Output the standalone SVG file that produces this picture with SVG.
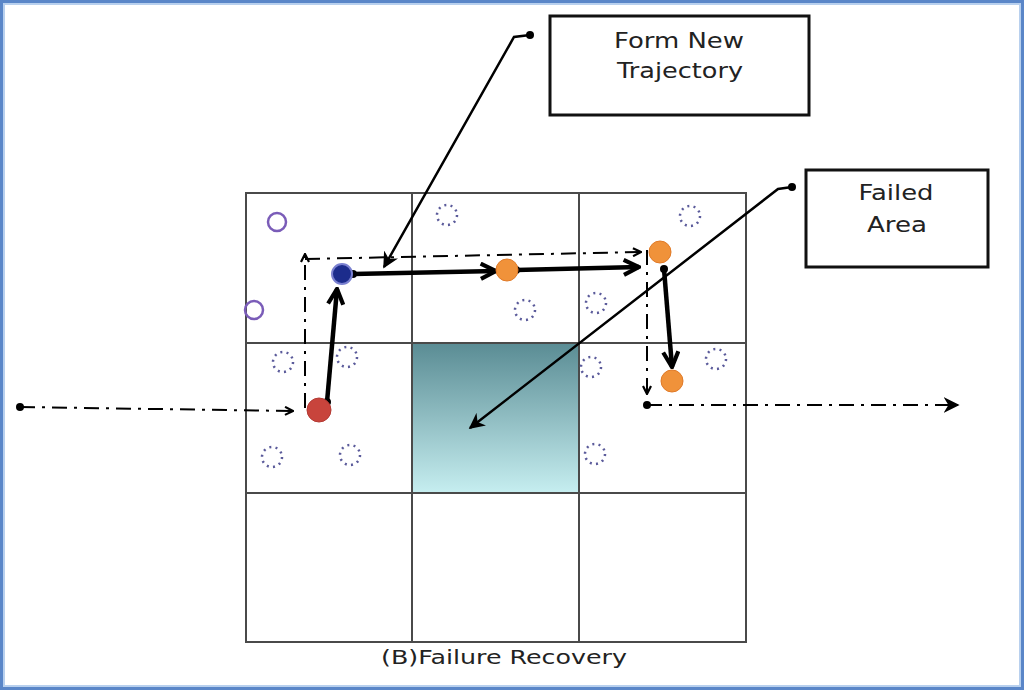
<svg xmlns="http://www.w3.org/2000/svg" width="1024" height="690" viewBox="0 0 1024 690">
<style>
.grid{fill:none;stroke:#4a4a4a;stroke-width:2}
.lbl{font-family:"DejaVu Sans","Liberation Sans",Arial,sans-serif;font-size:22px;fill:#222;text-anchor:middle}
.box{fill:#fff;stroke:#111;stroke-width:3}
.thick{stroke:#000;stroke-width:4.5;fill:none}
.lead{stroke:#000;stroke-width:2.5;fill:none}
.dd{stroke:#000;stroke-width:2;fill:none;stroke-dasharray:15 7 3 7}
.dotc{fill:none;stroke:#5a5a9a;stroke-width:2.5;stroke-dasharray:2 4.3}
.open{fill:none;stroke:#7a5cb8;stroke-width:2.5}
.orange{fill:#f0923a;stroke:#e07a28;stroke-width:1}
</style>
<defs>
<linearGradient id="fail" x1="0" y1="0" x2="0" y2="1">
<stop offset="0" stop-color="#5a8c94"/>
<stop offset="1" stop-color="#c6eef0"/>
</linearGradient>
<marker id="ahB" viewBox="0 0 10 10" refX="9" refY="5" markerWidth="19" markerHeight="19" orient="auto" markerUnits="userSpaceOnUse">
<path d="M1,1 L9,5 L1,9" fill="none" stroke="#000" stroke-width="2.2"/>
</marker>
<marker id="ahT" viewBox="0 0 10 10" refX="9" refY="5" markerWidth="10" markerHeight="10" orient="auto" markerUnits="userSpaceOnUse">
<path d="M1,1 L9,5 L1,9" fill="none" stroke="#000" stroke-width="2.2"/>
</marker>
<marker id="ahD" viewBox="0 0 10 10" refX="9" refY="5" markerWidth="16" markerHeight="16" orient="auto" markerUnits="userSpaceOnUse">
<path d="M0,0 L10,5 L0,10 L3,5 Z" fill="#000"/>
</marker>
<marker id="dot" viewBox="0 0 10 10" refX="5" refY="5" markerWidth="8" markerHeight="8" markerUnits="userSpaceOnUse">
<circle cx="5" cy="5" r="5" fill="#000"/>
</marker>
</defs>
<rect x="0" y="0" width="1024" height="690" fill="#fff"/>
<rect x="1.5" y="1.5" width="1021" height="687" fill="none" stroke="#5a86c8" stroke-width="3"/>
<rect x="4" y="4" width="1016" height="682" fill="none" stroke="#b8d0ee" stroke-width="2"/>

<g id="failed-area-cell">
<rect x="412" y="343" width="167" height="150" fill="url(#fail)"/>
</g>
<g id="grid">
<rect class="grid" x="246" y="193" width="500" height="449"/>
<line class="grid" x1="412" y1="193" x2="412" y2="642"/>
<line class="grid" x1="579" y1="193" x2="579" y2="642"/>
<line class="grid" x1="246" y1="343" x2="746" y2="343"/>
<line class="grid" x1="246" y1="493" x2="746" y2="493"/>
</g>

<g id="sensors">
<circle class="dotc" cx="447" cy="215" r="10"/>
<circle class="dotc" cx="690" cy="216" r="10"/>
<circle class="dotc" cx="525" cy="310" r="10"/>
<circle class="dotc" cx="596" cy="303" r="10"/>
<circle class="dotc" cx="283" cy="362" r="10"/>
<circle class="dotc" cx="347" cy="357" r="10"/>
<circle class="dotc" cx="591" cy="367" r="10"/>
<circle class="dotc" cx="716" cy="359" r="10"/>
<circle class="dotc" cx="272" cy="457" r="10"/>
<circle class="dotc" cx="350" cy="455" r="10"/>
<circle class="dotc" cx="595" cy="454" r="10"/>
<circle class="open" cx="277" cy="222" r="9"/>
<circle class="open" cx="254" cy="310" r="9"/>
</g>

<g id="connectors">
<polyline class="dd" points="20,407 293,411" marker-start="url(#dot)" marker-end="url(#ahT)"/>
<polyline class="dd" points="305,408 305,254" marker-end="url(#ahT)"/>
<polyline class="dd" points="305,259 641,252" marker-end="url(#ahT)"/>
<polyline class="dd" points="647,250 647,394" marker-end="url(#ahT)"/>
<polyline class="dd" points="647,405 958,405" marker-start="url(#dot)" marker-end="url(#ahD)"/>
<line class="thick" x1="327" y1="402" x2="337" y2="289" marker-start="url(#dot)" marker-end="url(#ahB)"/>
<line class="thick" x1="353" y1="274" x2="496" y2="271" marker-start="url(#dot)" marker-end="url(#ahB)"/>
<line class="thick" x1="516" y1="270" x2="639" y2="267" marker-start="url(#dot)" marker-end="url(#ahB)"/>
<line class="thick" x1="664" y1="269" x2="672" y2="367" marker-start="url(#dot)" marker-end="url(#ahB)"/>
<polyline class="lead" points="530,35 514,37 384,267" marker-start="url(#dot)" marker-end="url(#ahD)"/>
<polyline class="lead" points="792,187 778,189 470,428" marker-start="url(#dot)" marker-end="url(#ahD)"/>
</g>

<g id="nodes">
<circle cx="342" cy="274" r="10" fill="#1c2c8c" stroke="#7a80d0" stroke-width="2"/>
<circle cx="319" cy="410" r="12" fill="#c8443c" stroke="#b43a34" stroke-width="1"/>
<circle class="orange" cx="507" cy="270" r="11"/>
<circle class="orange" cx="660" cy="252" r="11"/>
<circle class="orange" cx="672" cy="381" r="11"/>
</g>

<g id="form-new-trajectory">
<rect class="box" x="550" y="16" width="259" height="99"/>
<text class="lbl" x="679" y="48" textLength="130" lengthAdjust="spacingAndGlyphs">Form New</text>
<text class="lbl" x="680" y="78" textLength="126" lengthAdjust="spacingAndGlyphs">Trajectory</text>
</g>
<g id="failed-area">
<rect class="box" x="806" y="170" width="182" height="97"/>
<text class="lbl" x="896" y="200" textLength="75" lengthAdjust="spacingAndGlyphs">Failed</text>
<text class="lbl" x="897" y="232" textLength="60" lengthAdjust="spacingAndGlyphs">Area</text>
</g>
<text class="lbl" x="504" y="664" style="font-size:19px" textLength="246" lengthAdjust="spacingAndGlyphs">(B)Failure Recovery</text>
</svg>
